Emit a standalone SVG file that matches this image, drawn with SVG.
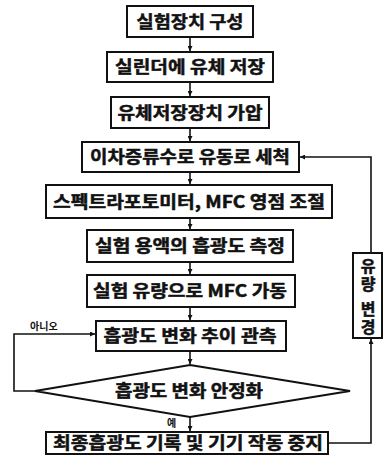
<svg xmlns="http://www.w3.org/2000/svg" width="385" height="465" viewBox="0 0 385 465">
<style>
.b{fill:#fff;stroke:#111;stroke-width:2}
.t{font-family:"Noto Sans CJK KR","Noto Sans",sans-serif;font-weight:bold;font-size:17px;fill:#111;stroke:#111;stroke-width:0.5;text-anchor:middle}
.v{font-family:"Noto Sans CJK KR","Noto Sans",sans-serif;font-weight:bold;font-size:16px;fill:#111;stroke:#111;stroke-width:0.5;text-anchor:middle;writing-mode:vertical-rl;text-orientation:upright;letter-spacing:2px}
.s{font-family:"Noto Sans CJK KR","Noto Sans",sans-serif;font-weight:bold;font-size:10px;fill:#111}
.c{fill:none;stroke:#111;stroke-width:1.6}
</style>
<defs>
<marker id="a" viewBox="0 0 10 10" refX="10" refY="5" markerWidth="5" markerHeight="5" orient="auto" markerUnits="userSpaceOnUse"><path d="M0,0L10,5L0,10z" fill="#111"/></marker>
</defs>
<rect width="385" height="465" fill="#fff"/>
<g id="connectors">
<line class="c" x1="190" y1="37" x2="190" y2="51" marker-end="url(#a)"/>
<line class="c" x1="190" y1="82" x2="190" y2="96" marker-end="url(#a)"/>
<line class="c" x1="190" y1="128" x2="190" y2="141" marker-end="url(#a)"/>
<line class="c" x1="190" y1="172" x2="190" y2="184" marker-end="url(#a)"/>
<line class="c" x1="190" y1="218" x2="190" y2="229" marker-end="url(#a)"/>
<line class="c" x1="190" y1="262" x2="190" y2="274" marker-end="url(#a)"/>
<line class="c" x1="190" y1="307" x2="190" y2="320" marker-end="url(#a)"/>
<line class="c" x1="190" y1="351" x2="190" y2="364" marker-end="url(#a)"/>
<line class="c" x1="190" y1="417" x2="190" y2="431" marker-end="url(#a)"/>
<polyline class="c" points="35,391 14,391 14,334 95,334" marker-end="url(#a)"/>
<polyline class="c" points="328,443 371,443 371,339" marker-end="url(#a)"/>
<polyline class="c" points="371,253 371,157 300,157" marker-end="url(#a)"/>
<text class="s" x="30" y="330">아니오</text>
<text class="s" x="167" y="427">예</text>
</g>
<g id="n1"><rect class="b" x="127" y="6" width="126" height="31"/><text class="t" x="190" y="28" textLength="107" lengthAdjust="spacingAndGlyphs">실험장치 구성</text></g>
<g id="n2"><rect class="b" x="107" y="52" width="166" height="30"/><text class="t" x="190" y="73" textLength="150" lengthAdjust="spacingAndGlyphs">실린더에 유체 저장</text></g>
<g id="n3"><rect class="b" x="111" y="97" width="158" height="31"/><text class="t" x="190" y="119" textLength="145" lengthAdjust="spacingAndGlyphs">유체저장장치 가압</text></g>
<g id="n4"><rect class="b" x="82" y="142" width="217" height="30"/><text class="t" x="190" y="163" textLength="200" lengthAdjust="spacingAndGlyphs">이차증류수로 유동로 세척</text></g>
<g id="n5"><rect class="b" x="46" y="185" width="286" height="33"/><text class="t" x="189" y="208" textLength="272" lengthAdjust="spacingAndGlyphs">스펙트라포토미터, MFC 영점 조절</text></g>
<g id="n6"><rect class="b" x="87" y="230" width="206" height="32"/><text class="t" x="190" y="252" textLength="190" lengthAdjust="spacingAndGlyphs">실험 용액의 흡광도 측정</text></g>
<g id="n7"><rect class="b" x="87" y="275" width="208" height="32"/><text class="t" x="190" y="297" textLength="194" lengthAdjust="spacingAndGlyphs">실험 유량으로 MFC 가동</text></g>
<g id="n8"><rect class="b" x="96" y="321" width="190" height="30"/><text class="t" x="190" y="342" textLength="173" lengthAdjust="spacingAndGlyphs">흡광도 변화 추이 관측</text></g>
<g id="n9"><polygon class="b" points="190,365 350,391 190,417 35,391"/><text class="t" x="189" y="397" textLength="148" lengthAdjust="spacingAndGlyphs">흡광도 변화 안정화</text></g>
<g id="n10"><rect class="b" x="46" y="432" width="282" height="22"/><text class="t" x="188" y="449" textLength="270" lengthAdjust="spacingAndGlyphs">최종흡광도 기록 및 기기 작동 중지</text></g>
<g id="n11"><rect class="b" x="353" y="253" width="29" height="85"/>
<text class="v" x="368" y="276">유량</text><text class="v" x="368" y="319">변경</text></g>
</svg>
